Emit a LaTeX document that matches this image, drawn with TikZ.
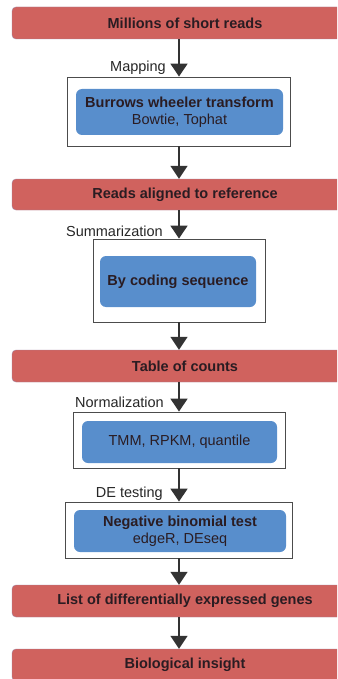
\documentclass[tikz,border=0pt]{standalone}
\usepackage{fontspec}
\setmainfont{Liberation Sans}
\usetikzlibrary{arrows.meta}
\definecolor{barred}{RGB}{208,98,94}
\definecolor{barline}{RGB}{160,130,158}
\definecolor{boxblue}{RGB}{88,142,204}
\definecolor{inkdark}{RGB}{42,28,34}
\newcommand{\txtsize}{\fontsize{14.5pt}{17pt}\selectfont}

\begin{document}
\begin{tikzpicture}[x=1pt,y=-1pt,
  stage/.style={draw=barline, fill=barred, rounded corners=4pt, minimum width=346pt,
    minimum height=32pt, inner sep=0pt, font=\txtsize\bfseries, text=inkdark},
  frame/.style={draw=black!70, line width=.8pt, inner sep=0pt},
  method/.style={fill=boxblue, rounded corners=6pt, inner sep=0pt, text=inkdark,
    align=center, font=\txtsize},
  flow/.style={draw=black!80, line width=1.6pt, -{Triangle[width=17pt,length=13pt]}},
  steplabel/.style={anchor=base east, inner sep=0pt, font=\txtsize, text=black!85}]
      \clip (0,0) rectangle (337,679);
      \useasboundingbox (0,0) rectangle (337,679);

      %% the red stages of the pipeline
      \node (millions) at (185,23)  [stage] {Millions of short reads};
      \node (aligned)  at (185,194.5) [stage, minimum height=31pt] {Reads aligned to reference};
      \node (counts)   at (185,366) [stage] {Table of counts};
      \node (degenes)  at (185,601) [stage] {List of differentially expressed genes};
      \node (insight)  at (185,665) [stage] {Biological insight};

      %% framed methods between the stages
      \node (fmap)  at (179,111.5) [frame, minimum width=223pt, minimum height=69pt] {};
      \node (fsum)  at (179,280.5) [frame, minimum width=172pt, minimum height=83pt] {};
      \node (fnorm) at (179,440)   [frame, minimum width=212pt, minimum height=56pt] {};
      \node (ftest) at (179,530)   [frame, minimum width=227pt, minimum height=56pt] {};

      \node (bwt)    at (179.5,112) [method, minimum width=207pt, minimum height=46pt]
        {\textbf{Burrows wheeler transform}\\Bowtie, Tophat};
      \node (coding) at (178,281.5) [method, minimum width=156pt, minimum height=51pt]
        {\textbf{By coding sequence}};
      \node (norm)   at (179.5,442) [method, minimum width=195pt, minimum height=42pt]
        {TMM, RPKM, quantile};
      \node (nbtest) at (180,531)   [method, minimum width=212pt, minimum height=42pt]
        {\textbf{Negative binomial test}\\edgeR, DEseq};

      %% arrows down the middle
      \draw[flow] (millions.south -| fmap.north) to (fmap.north);
      \draw[flow] (fmap.south) to (fmap.south |- aligned.north);
      \draw[flow] (aligned.south -| fsum.north) to (fsum.north);
      \draw[flow] (fsum.south) to (fsum.south |- counts.north);
      \draw[flow] (counts.south -| fnorm.north) to (fnorm.north);
      \draw[flow] (fnorm.south) to (ftest.north);
      \draw[flow] (ftest.south) to (ftest.south |- degenes.north);
      \draw[flow] (degenes.south -| ftest.south) to (insight.north -| ftest.south);

      \node (lmap)  at (166,72)  [steplabel] {Mapping};
      \node (lsum)  at (163,236) [steplabel] {Summarization};
      \node (lnorm) at (164,407) [steplabel] {Normalization};
      \node (ltest) at (163,497) [steplabel] {DE testing};
\end{tikzpicture}
\end{document}
